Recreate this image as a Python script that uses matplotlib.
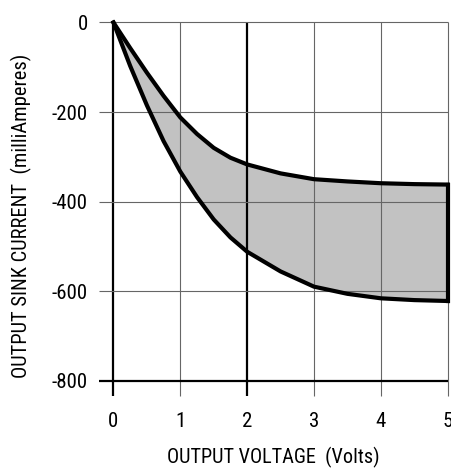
import matplotlib
matplotlib.use('Agg')
import matplotlib.pyplot as plt

plt.rcParams['font.family'] = ['Roboto Condensed', 'Liberation Sans Narrow',
                               'Roboto', 'DejaVu Sans']

# Output voltage (Volts)
volts = [0, 0.25, 0.5, 0.75, 1.0, 1.25, 1.5, 1.75, 2.0, 2.5, 3.0, 3.5, 4.0, 4.5, 5.0]
# Boundaries of the sink current band (milliAmperes)
upper_ma = [0, -57, -112, -164, -212, -249, -280, -302, -317, -337, -350, -355, -359, -361, -362]
lower_ma = [0, -97, -185, -265, -333, -390, -440, -480, -512, -556, -590, -606, -616, -620, -622]

x_ticks = [0, 1, 2, 3, 4, 5]
y_ticks = [0, -200, -400, -600, -800]

fig = plt.figure(figsize=(4.51, 4.69), dpi=100)
ax = fig.add_axes([0.2071, 0.1501, 0.7856, 0.8115])
ax.set_xlim(-0.3, 5.0)
ax.set_ylim(-840, 10)
for s in ax.spines.values():
    s.set_visible(False)

# grid lines, extending past the plot like tick marks
for xv in x_ticks:
    heavy = xv in (0, 2)
    ax.vlines(xv, -834, 0, colors='black' if heavy else '#666666',
              linewidth=1.6 if heavy else 0.8, clip_on=False, zorder=1)
for yv in y_ticks:
    heavy = yv == -800
    ax.hlines(yv, -0.22, 5, colors='black' if heavy else '#666666',
              linewidth=1.6 if heavy else 0.8, clip_on=False, zorder=1)

# shaded band between the two limits
ax.fill_between(volts, upper_ma, lower_ma, facecolor='#c2c2c2',
                edgecolor='none', zorder=0)
ax.plot(volts, upper_ma, color='black', linewidth=3, zorder=3,
        solid_joinstyle='round', clip_on=False)
ax.plot(volts, lower_ma, color='black', linewidth=3, zorder=3,
        solid_joinstyle='round', clip_on=False)
ax.plot([volts[-1], volts[-1]], [upper_ma[-1], lower_ma[-1]], color='black',
        linewidth=3, zorder=3, clip_on=False)

ax.set_xticks(x_ticks)
ax.set_xticklabels([str(v) for v in x_ticks])
ax.set_yticks(y_ticks)
ax.set_yticklabels([str(v) for v in y_ticks])
ax.tick_params(axis='x', length=0, pad=10, labelsize=15)
ax.tick_params(axis='y', length=0, pad=4, labelsize=15)

fig.text(273 / 451, 1 - 457 / 469, 'OUTPUT VOLTAGE  (Volts)', ha='center',
         va='center', fontsize=14.6)
fig.text(21 / 451, 1 - 216 / 469, 'OUTPUT SINK CURRENT  (milliAmperes)',
         ha='center', va='center', rotation=90, fontsize=14.8)

fig.savefig('out.png', dpi=100)
